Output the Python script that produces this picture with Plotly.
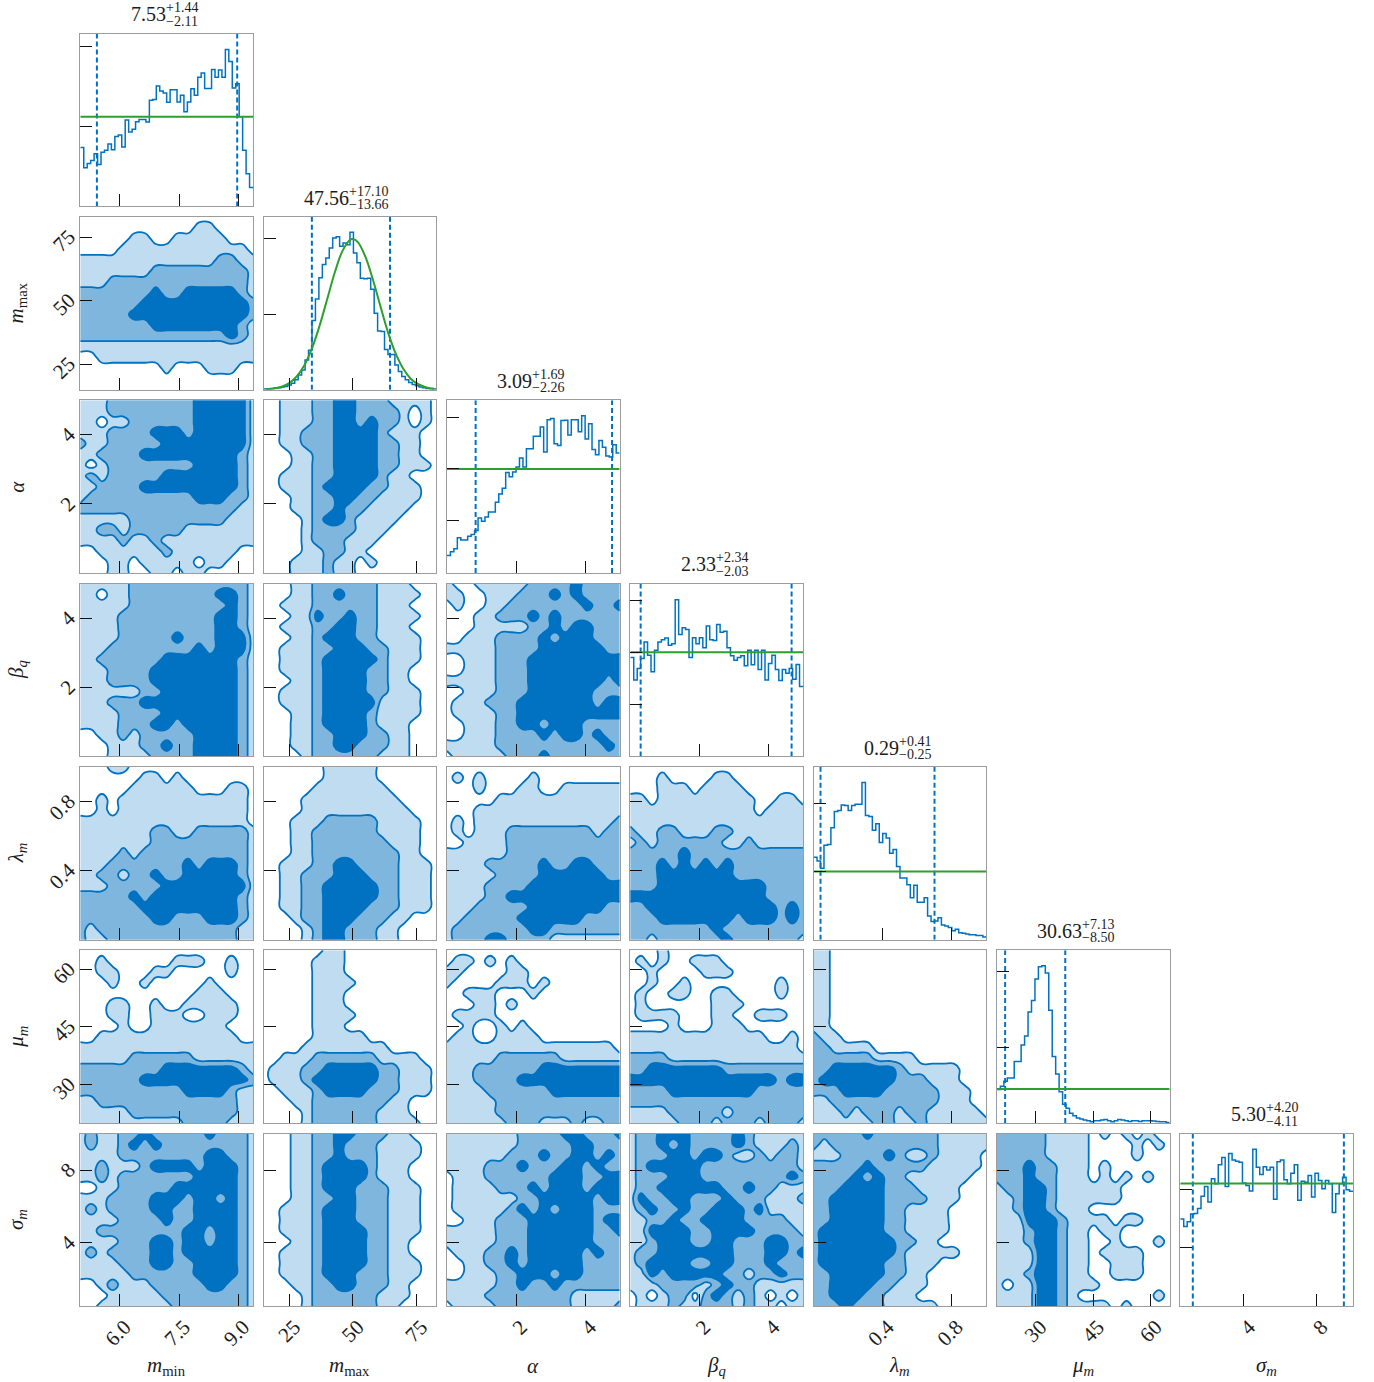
import numpy as np
import plotly.graph_objects as go

# ---------------- parameters ----------------
labels = ["<i>m</i><sub>min</sub>", "<i>m</i><sub>max</sub>", "<i>α</i>", "<i>β</i><sub><i>q</i></sub>",
          "<i>λ</i><sub><i>m</i></sub>", "<i>μ</i><sub><i>m</i></sub>", "<i>σ</i><sub><i>m</i></sub>"]
ranges = [[5.0, 9.37], [14.9, 82.9], [0.0, 5.0], [0.0, 5.0], [0.0, 1.0], [20.0, 64.9], [0.5, 10.0]]
tick_vals = [[6, 7.5, 9], [25, 50, 75], [2, 4], [2, 4], [0.4, 0.8], [30, 45, 60], [4, 8]]
tick_text = [["6.0", "7.5", "9.0"], ["25", "50", "75"], ["2", "4"], ["2", "4"], ["0.4", "0.8"], ["30", "45", "60"], ["4", "8"]]
medians = ["7.53", "47.56", "3.09", "2.33", "0.29", "30.63", "5.30"]
err_up = ["+1.44", "+17.10", "+1.69", "+2.34", "+0.41", "+7.13", "+4.20"]
err_dn = ["−2.11", "−13.66", "−2.26", "−2.03", "−0.25", "−8.50", "−4.11"]
q_lo = [5.42, 33.90, 0.83, 0.30, 0.04, 22.13, 1.19]
q_hi = [8.97, 64.66, 4.78, 4.67, 0.70, 37.76, 9.50]

# ---------------- histograms (height) ----------------
hist_mmin = [179,117,130,139,160,127,164,170,189,172,212,217,180,262,226,234,257,264,264,256,322,324,365,350,344,316,354,354,317,337,287,317,357,337,392,405,358,358,415,392,414,392,476,440,359,372,272,170,99,57]
hist_mmax = [2,3,4,5,6,8,10,14,20,30,45,60,90,120,210,275,340,380,400,430,460,464,435,445,440,478,415,385,338,337,338,305,232,178,177,122,107,107,75,55,40,30,22,16,12,8,6,4,3,2]
hist_alpha = [53,65,74,107,100,100,112,117,129,167,157,170,185,185,215,240,257,305,292,307,322,349,322,377,377,415,415,443,367,465,469,392,387,463,464,419,465,465,429,477,407,453,375,359,402,382,355,352,389,364]
hist_beta = [300,232,267,297,347,307,257,322,347,354,359,337,342,475,370,390,385,300,360,342,360,330,396,354,352,400,377,380,330,305,292,300,305,275,322,278,322,264,322,232,282,307,264,230,264,252,267,234,279,212]
hist_lambda = [250,239,217,287,289,340,389,392,409,407,392,407,411,411,477,377,374,332,352,295,322,309,262,274,222,187,187,167,127,165,114,114,127,72,55,57,67,45,42,37,27,32,21,20,17,15,15,13,13,8]
hist_mu = [102,112,127,137,137,187,187,237,264,337,372,437,474,477,455,342,202,149,95,57,45,30,22,15,12,9,7,4,7,7,9,11,7,4,7,11,9,7,5,7,7,5,7,7,7,6,5,4,4,2]
hist_sigma = [265,242,257,280,282,297,334,364,317,387,372,430,452,364,464,444,440,437,374,367,350,477,422,400,424,414,422,325,439,444,384,372,404,430,322,380,377,397,332,404,382,357,382,372,285,342,372,392,354,349]
hist_all = [hist_mmin, hist_mmax, hist_alpha, hist_beta, hist_lambda, hist_mu, hist_sigma]

prior_flat = [272, None, 316, 316, 207, 103, 373]
prior_x_mmax = [16,19,22,25,28,31,34,37,40,43,46,49,50,52,55,58,61,64,67,70,73,76,79,82]
prior_y_mmax = [1.4,3.8,9,20,41,75,127,196,277,358,422,455,457,448,403,332,250,171,108,62,32,16,7,3]
hist_yticks = [[0,243,486],[0,229,458],[0,158,316,473],[0,158,316,474],[0,207,413],[0,230,460],[0,178,355]]

# ---------------- 2D density levels, top row first (0 outside, 1/2/3 = credible bands) ----------------
g_mmax_mmin = ["00000000000000000","00000000000110000","00000110011111000","00001111111111110","11111111111112211","11111112222222221","11122222222222221","22222223223333321","22222233333333332","22222333333333332","22222223333333321","22222222222222321","11111111111111111","00111111111111111","00000000100011100","00000000000000000","00000000000000000"]
g_alpha_mmin = ["11122222222333331","11122222222333331","11011222222333331","11122223332333331","21122222333333331","11222233333333321","10122222222333321","12122222333333321","11222233333333321","12222222222333221","22222222222222211","11111222222222111","11221222221111111","11112112111111111","00111111211111100","00011011111011000","00011001101100000"]
g_beta_mmin = ["11111222222222221","11011222222223321","11111222222222321","11112222222223321","11112222222223321","11112222232223331","11122222222323331","11222222333333321","11122223333333321","11122223333333321","11111122333333321","11122233333333321","11112222333333321","11112223323333321","00112122222333321","00011122322333321","00011112222333321"]
g_lambda_mmin = ["00011000000000000","00000011010000000","00000111111000110","00101111111111110","00101111111111110","11111111111111110","11111112211222221","11111112222222221","11112122222222221","11122222223233321","11221223223333321","11122222333333331","22222323333333321","22222233333333321","22222223322233321","21222222222222211","21122222222222211"]
g_mu_mmin = ["00000000000000000","00100000011100100","00110001100000100","00010010000010000","00000000000111000","00011001001111100","00011001110011100","00001001111111000","00111111111111100","11111111111111111","11111222222111111" ,"22222222333333321","22222233333333332","22222222223333211","11222222222222211","11111222222222211","11111111112222111"]
g_sigma_mmin = ["12112232222232221","12112323222222221","11112222222233221","11211123333233321","11212222222333321","00112222233333321","11122223332332321","12122223322333321","11112222322333321","11222222223323321","11112223323323321","12122223323333321","11112223322333321","11111222222333321","00121112222233221","00011111222222221","00111111122222221"]
g_alpha_mmax = ["00111223322211110","00111223322221010","00111223323221010","00112223333211100","00112223333221100","00011223333221100","00011223333221110","00111223333211000","00111233332211100","00011223322111100","00011223221111000","00001233211110000","00001222211100000","00001222111000000","00001122110000000","00011121101000000","00011121100000000"]
g_beta_mmax = ["00011222222111000","00011223222111100","00111222222111000","00011322322111100","00111223322111000","00011233322111100","00111223332211100","00111233333211100","00111233332211000","00011233332211000","00111233332211100","00111233333111100","00011233332111100","00011233332111000","00011223332211000","00011223322211000","00001222222111000"]
g_beta_alpha = ["10011111222232222","11001112223232222","01001122222223223","00011222323222222","00011111223233222","00111222232333222","11111222233333322","00111222333333333","00111222333333333","11111222333333323","00111222333333222","01112223333333233","01111223333333333","00111223323332222","00111222232332322","11111222222222232","01111122232222222"]
g_lambda_mmax = ["00000011111000000","00000011111000000","00000111111100000","00001111111110000","00001111111111000","00011122222111100","00011222222111100","00011222222211100","00011222222221100","00111223322221110","00112223332221110","00112233333221110","00112233333221110","00112233332221110","00012233322211000","00001233222110000","00001233222110000"]
g_mu_mmax = ["00000011000000000","00000111000000000","00000111000000000","00000111100000000","00000111000000000","00000111000000000","00000111100000000","00000111000000000","00000111110000000","00001111111100000","00111222222111100","01112233333221110","01112333333221110","00111233332221110","00011222222211000","00001222222111000","00001222222111100"]
g_sigma_mmax = ["00011223322211000","00011223222111100","00011223222111100","00011233332111000","00011233332111000","00011233322211100","00011223322211100","00111233322211100","00111233322211100","00111233332211100","00011233332211000","00111233332211000","00111233332211100","00111233322211100","00011223322211000","00001222222111000","00001222222110000"]
g_lambda_alpha = ["00000000000000000","01010000100000000","00010001100111111","00000111111111111","00011111111111111","01011111111111112","01011122222222122","00111122222222222","11111122222222222","11112222232233222","11111222233333322","11112222333333333","11112233333333333","11122222333333322","11222223333332222","12222222332222222","12223322221111111"]
g_lambda_beta = ["00000000000000000","00010000110000000","00011101111000000","11011111111100110","11111111111101111","11111111111111111","21122111221111111","12122222211211111","22222322222222222","22232323232222222","22233333332222222","22233333333332222","33333333333332222","22333333333333232","22233333332333232","22222222322222222","22122222232222221"]
g_mu_alpha = ["00000000000000000","01101010000000000","11000011000000000","10000111010000000","00111000100000000","00011010000000000","01111000000000000","00100101000000000","01100111100000000","11111111111111110","11111222222111111","11122222233333333","11122223333333333","11112222223333333","11111222222222222","11111222222222222","11111122211121122"]
g_mu_beta = ["00010000000000000","01010011100000000","00100001110000000","00100100000000100","01001100110000100","01000000111000000","01111000110011100","00001000111000000","11111111111110010","11111111111111110","22221111111111111","22333333322222222","33333333333333233","22223333333322222","22222222222222222","11112222212222222","11111222122212221"]
g_sigma_alpha = ["11111112222332223","11111112222233222","11111122232233232","11112223222332322","01112222223332233","01111222323332333","01111112233333233","01111123232333222","00111222333333233","11111222333333223","11111222333333222","01112232333332322","00112232333332222","00111223332332222","11111223223222222","11112222222211111","01111222222211112"]
g_sigma_beta = ["12233322223211111","12232322223211121","12223323321121221","12333332222222221","12223332222222232","12233333322322111","13223322232221112","12322322333231111","11223223333222211","11333322333322221","11233322332223322","12233333332223323","12333322332223222","11323333322122322","11122221232211111","01012202321210101","01112112221211011"]
g_sigma_lambda = ["22222322222211111","21222222222211111","11122223211211110","22222322222111110","22223232211111100","22233332221111000","22333332222111000","22333332211110000","22333332211110000","23333332211110000","23333333221100000","23333333211111000","23333332211100000","22333332211000000","22333322111000000","22333221110000000","22232221111100000"]
g_sigma_mu = ["22222111101010100","22222111100001010","22222111100001000","22232211101000000","22232211101010100","12233211111100000","11233211111100000","11233211100000000","11133321111011000","11123321101100000","11123321100100010","11113321101111000","11113321100111000","11123321100111000","10113321110000000","11113321000000010","11113321111010000"]
g_mu_lambda = ["11000000000000000","11000000000000000","11000000000000000","11000000000000000","11000000000000000","11000000000000000","11000000000000000","11000000000000000","21100000000000000","22111100000000000","22222211110000000","22333333211111000","23333333222111000","22233332222211100","11222222222211100","11121222122111110","11111122112111111"]

grids = {
    (1, 0): g_mmax_mmin,
    (2, 0): g_alpha_mmin, (2, 1): g_alpha_mmax,
    (3, 0): g_beta_mmin, (3, 1): g_beta_mmax, (3, 2): g_beta_alpha,
    (4, 0): g_lambda_mmin, (4, 1): g_lambda_mmax, (4, 2): g_lambda_alpha, (4, 3): g_lambda_beta,
    (5, 0): g_mu_mmin, (5, 1): g_mu_mmax, (5, 2): g_mu_alpha, (5, 3): g_mu_beta, (5, 4): g_mu_lambda,
    (6, 0): g_sigma_mmin, (6, 1): g_sigma_mmax, (6, 2): g_sigma_alpha, (6, 3): g_sigma_beta, (6, 4): g_sigma_lambda, (6, 5): g_sigma_mu,
}

# ---------------- style ----------------
W, H = 1374, 1382
LEFT0, TOP0, STEP, SIZE = 79.3, 32.7, 183.33, 174.7
INSET = 1.0
BLUE = "#0072C1"
GREEN = "#2ca02c"
FILLS = ["#ffffff", "#bfdcf0", "#7fb6de", "#0072C1"]
BORDER = "#9c9c9c"
SERIF = "Liberation Serif"
TEXT = "#1c1c1c"

colorscale = [[0, FILLS[0]], [1/6, FILLS[0]], [1/6, FILLS[1]], [0.5, FILLS[1]],
              [0.5, FILLS[2]], [5/6, FILLS[2]], [5/6, FILLS[3]], [1, FILLS[3]]]

fig = go.Figure()
layout = dict(width=W, height=H, margin=dict(l=0, r=0, t=0, b=0, pad=0), autosize=False,
              paper_bgcolor="white", plot_bgcolor="white", showlegend=False)
annotations = []
n = 0


def axis_common():
    return dict(showgrid=False, zeroline=False, showline=True, mirror=True, linecolor=BORDER, linewidth=1.2,
                ticks="inside", ticklen=12, tickwidth=1, tickcolor="#111111",
                tickfont=dict(family=SERIF, size=21, color=TEXT), tickangle=-45)


for row in range(7):
    for col in range(row + 1):
        n += 1
        xname, yname = f"x{n}", f"y{n}"
        x0 = LEFT0 + STEP * col
        top = TOP0 + STEP * row
        xa = axis_common()
        xa.update(domain=[(x0 + INSET) / W, (x0 + SIZE - INSET) / W], range=ranges[col], anchor=yname,
                  tickmode="array", tickvals=tick_vals[col], ticktext=tick_text[col],
                  showticklabels=row == 6, ticklabelshift=5, ticklabelstandoff=-1)
        ya = axis_common()
        ya.update(domain=[1 - (top + SIZE - INSET) / H, 1 - (top + INSET) / H], anchor=xname,
                  ticklabelstandoff=6, ticklabelshift=-3)
        if row == col:
            ya.update(range=[0, 524], tickmode="array", tickvals=hist_yticks[col], showticklabels=False)
            edges = np.linspace(ranges[col][0], ranges[col][1], 51)
            vals = hist_all[col]
            fig.add_trace(go.Scatter(x=edges, y=vals + [vals[-1]], mode="lines", xaxis=xname, yaxis=yname,
                                     line=dict(color=BLUE, width=1.5, shape="hv"), hoverinfo="skip"))
            for q in (q_lo[col], q_hi[col]):
                fig.add_trace(go.Scatter(x=[q, q], y=[0, 524], mode="lines", xaxis=xname, yaxis=yname,
                                         line=dict(color=BLUE, width=2, dash="5px,3px"), hoverinfo="skip"))
            if prior_flat[col] is None:
                fig.add_trace(go.Scatter(x=prior_x_mmax, y=prior_y_mmax, mode="lines", xaxis=xname, yaxis=yname,
                                         line=dict(color=GREEN, width=2, shape="spline"), hoverinfo="skip"))
            else:
                fig.add_trace(go.Scatter(x=ranges[col], y=[prior_flat[col]] * 2, mode="lines", xaxis=xname, yaxis=yname,
                                         line=dict(color=GREEN, width=2), hoverinfo="skip"))
            cx = x0 + SIZE / 2
            annotations.append(dict(x=cx / W, y=1 - (top - 18.5) / H, xref="paper", yref="paper", text=medians[col],
                                    xanchor="right", yanchor="middle", showarrow=False, xshift=1,
                                    font=dict(family=SERIF, size=20, color=TEXT)))
            annotations.append(dict(x=cx / W, y=1 - (top - 25) / H, xref="paper", yref="paper", text=err_up[col],
                                    xanchor="left", yanchor="middle", showarrow=False, xshift=-3,
                                    font=dict(family=SERIF, size=14, color=TEXT)))
            annotations.append(dict(x=cx / W, y=1 - (top - 11.5) / H, xref="paper", yref="paper", text=err_dn[col],
                                    xanchor="left", yanchor="middle", showarrow=False, xshift=-3,
                                    font=dict(family=SERIF, size=14, color=TEXT)))
        else:
            ya.update(range=ranges[row], tickmode="array", tickvals=tick_vals[row], ticktext=tick_text[row],
                      showticklabels=col == 0)
            rows = grids[(row, col)]
            z = np.array([[int(c) for c in (r + r[-1] * 17)[:17]] for r in rows[::-1]], dtype=float)
            fig.add_trace(go.Contour(
                x=np.linspace(ranges[col][0], ranges[col][1], 17),
                y=np.linspace(ranges[row][0], ranges[row][1], 17),
                z=z, zmin=0, zmax=3, colorscale=colorscale, showscale=False, hoverinfo="skip",
                autocontour=False, contours=dict(coloring="fill", start=0.5, end=2.5, size=1, showlines=True),
                line=dict(color=BLUE, width=1.8, smoothing=1.3),
                xaxis=xname, yaxis=yname))
        suffix = "" if n == 1 else str(n)
        layout["xaxis" + suffix] = xa
        layout["yaxis" + suffix] = ya

for i, lab in enumerate(labels):
    annotations.append(dict(x=(LEFT0 + STEP * i + SIZE / 2) / W, y=1 - 1366 / H, xref="paper", yref="paper", text=lab,
                            xanchor="center", yanchor="middle", showarrow=False,
                            font=dict(family=SERIF, size=21, color=TEXT)))
    if i > 0:
        annotations.append(dict(x=17 / W, y=1 - (TOP0 + STEP * i + SIZE / 2) / H, xref="paper", yref="paper", text=lab,
                                xanchor="center", yanchor="middle", showarrow=False, textangle=-90,
                                font=dict(family=SERIF, size=21, color=TEXT)))

layout["annotations"] = annotations
fig.update_layout(**layout)
fig.write_html("out.html", config={"displayModeBar": False}, post_script="document.body.style.margin='0';")
